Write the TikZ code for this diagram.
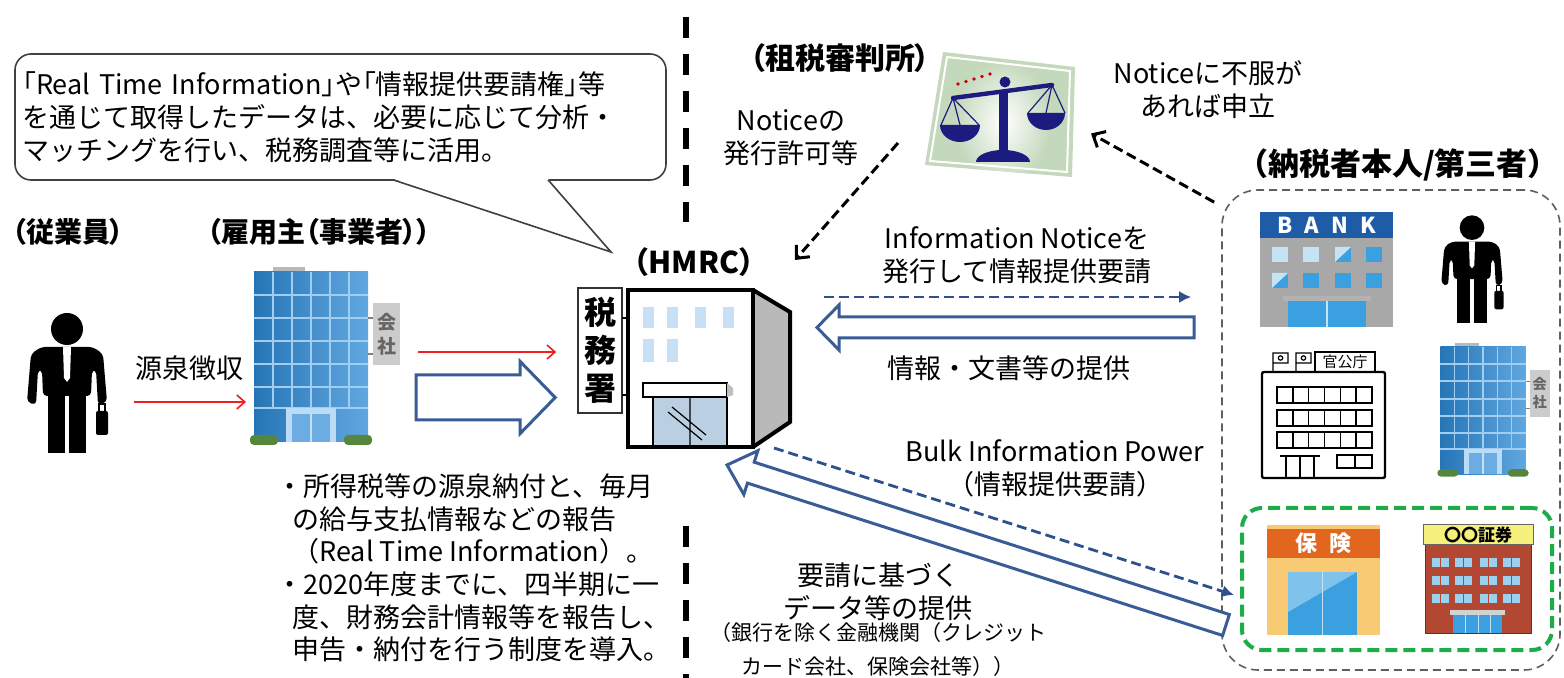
\documentclass[tikz,border=0pt]{standalone}
\usepackage{fontspec}
\setmainfont{Noto Sans CJK JP}
\newfontfamily\pfont{Noto Sans CJK JP}[RawFeature=+palt]
\usetikzlibrary{arrows.meta, positioning, calc}

\definecolor{navyblue}{RGB}{46, 80, 140}
\definecolor{hollowblue}{RGB}{58, 92, 150}
\definecolor{alarmred}{RGB}{240, 30, 30}
\definecolor{groupgreen}{RGB}{28, 172, 72}
\definecolor{groupgray}{RGB}{95, 95, 95}
\definecolor{glassblue}{RGB}{44, 138, 214}
\definecolor{glasslight}{RGB}{160, 205, 240}
\definecolor{signgray}{RGB}{204, 204, 204}
\definecolor{bushgreen}{RGB}{86, 134, 62}
\definecolor{windowblue}{RGB}{200, 224, 246}
\definecolor{doorglass}{RGB}{186, 208, 226}
\definecolor{courtgreen}{RGB}{196, 216, 188}
\definecolor{scalenavy}{RGB}{28, 28, 128}
\definecolor{bankblue}{RGB}{30, 92, 168}
\definecolor{bankgray}{RGB}{168, 168, 168}
\definecolor{skyblue}{RGB}{58, 160, 224}
\definecolor{palesky}{RGB}{196, 228, 246}
\definecolor{insorange}{RGB}{226, 102, 30}
\definecolor{inscream}{RGB}{248, 202, 116}
\definecolor{signyellow}{RGB}{246, 240, 124}
\definecolor{brickred}{RGB}{178, 72, 50}

% narrow brackets
\newcommand{\jlq}{{\pfont 「}}
\newcommand{\jrq}{{\pfont 」}}

% outlined block arrow between two named points: tail, tip, shaft half width, head half width, head length (pt)
\newcommand{\hollowarrow}[5]{%
  \pgfmathanglebetweenpoints{\pgfpointanchor{#1}{center}}{\pgfpointanchor{#2}{center}}%
  \let\harrowang\pgfmathresult
  \pgfpointdiff{\pgfpointanchor{#1}{center}}{\pgfpointanchor{#2}{center}}%
  \pgfgetlastxy{\harrowdx}{\harrowdy}%
  \pgfmathsetmacro{\harrowlen}{veclen(\harrowdx,\harrowdy)}%
  \begin{scope}[shift={(#1)}, rotate=\harrowang, x=1pt, y=1pt]
    \draw[fatarrow] (0,-#3) -- ({\harrowlen-#5},-#3) -- ({\harrowlen-#5},-#4) -- (\harrowlen,0)
      -- ({\harrowlen-#5},#4) -- ({\harrowlen-#5},#3) -- (0,#3) -- cycle;
  \end{scope}}

\tikzset{
	lbl/.style={align=center, inner sep=0pt, font=\fontsize{13.5}{16.5}\selectfont},
	smalllbl/.style={align=center, inner sep=0pt, font=\fontsize{10.5}{17}\selectfont},
	head/.style={inner sep=0pt, font=\pfont\bfseries\fontsize{14}{17}\selectfont},
	spot/.style={inner sep=0pt, outer sep=0pt},
	signtext/.style={inner sep=0pt, align=center, text=black!60, font=\bfseries\fontsize{9.5}{12}\selectfont},
	bubble/.style={rectangle, rounded corners=8pt, draw=black!75, line width=0.8pt, fill=white, align=left, text width=318pt, minimum width=325.5pt, minimum height=63pt, inner xsep=3.75pt, font=\fontsize{13.5}{16.5}\selectfont},
	groupbox/.style={rectangle, rounded corners=18pt, draw=groupgray, line width=0.8pt, dash pattern=on 4pt off 2.5pt},
	nonbankbox/.style={rectangle, rounded corners=10pt, draw=groupgreen, line width=2pt, dash pattern=on 6pt off 3pt},
	divider/.style={line width=3pt, dash pattern=on 10.5pt off 8pt},
	wagearrow/.style={-{Straight Barb[length=4pt, width=7pt]}, draw=alarmred, line width=0.8pt},
	fatarrow/.style={draw=hollowblue, line width=1.5pt, fill=white, line join=miter},
	noticearrow/.style={-{Latex[length=6pt, width=6pt]}, draw=navyblue, line width=1.4pt, dash pattern=on 5pt off 2.5pt},
	appealarrow/.style={-{Straight Barb[length=5pt, width=9pt]}, line width=1.5pt, dash pattern=on 5pt off 2.5pt},
	worker/.pic={
		\fill[rounded corners=2pt] (-26,-37) -- (26,-37) -- (36,-30) -- (40,18) -- (31,21) -- (29,-14)
			-- (25,-14) -- (24,12) -- (-24,12) -- (-25,-14) -- (-29,-14) -- (-31,21) -- (-40,18) -- (-36,-30) -- cycle;
		\fill (-19,8) rectangle (-2,69);
		\fill (2,8) rectangle (19,69);
		\fill (0,-55) circle (16);
		\fill[white] (-4,-37) -- (4,-37) -- (3,-6) -- (0,-2) -- (-3,-6) -- cycle;
		\fill[rounded corners=1pt] (29,27) rectangle (41,51);
		\draw[line width=0.8pt] (32,27) -- (32,20) -- (38,20) -- (38,27);
	},
	office/.pic={
		\fill[gray!55] (-38,-89) rectangle (-6,-84);
		\shade[left color=glassblue!85!black, right color=glassblue!75!white] (-57,-84) rectangle (57,86);
		\foreach \gx in {-38,-19,0,19,38}
			\draw[glasslight, line width=0.7pt] (\gx,-84) -- (\gx,52);
		\foreach \gy in {-61,-38,-15,8,31,52}
			\draw[glasslight, line width=1pt] (-57,\gy) -- (57,\gy);
		\fill[glasslight!70!white] (-25,52) rectangle (25,86);
		\fill[glassblue!70!white] (-19,58) rectangle (19,86);
		\draw[glasslight!60!white, line width=0.6pt] (0,58) -- (0,86);
		\fill[bushgreen, rounded corners=2pt] (-61,79) rectangle (-33,89);
		\fill[bushgreen, rounded corners=2pt] (33,79) rectangle (61,89);
		\draw[gray, line width=0.6pt] (57,-38) -- (62,-38) (57,-2) -- (62,-2);
		\fill[signgray] (62,-53) rectangle (89,9);
		\node[signtext] (-sign) at (75.5,-22) {会\\社};
	},
}

\begin{document}
\begin{tikzpicture}[x=0.5pt, y=-0.5pt]
	\fill[white] (0,0) rectangle (1564,678);
	\useasboundingbox (0,0) rectangle (1564,678);

	% split lines
	\draw[divider] (686,17) -- (686,222);
	\draw[divider] (686,526) -- (686,678);

	% employee and employer
	\node[head] (emplabel) at (68,232) {（従業員）};
	\node[head] (bosslabel) at (319,232) {（雇用主（事業者））};
	\node[spot, minimum width=40pt, minimum height=69.5pt] (employee) at (67,384) {};
	\pic at (67,384) {worker};
	\node[spot, minimum width=57pt, minimum height=89pt] (employer) at (311,356) {};
	\pic (bossbldg) at (311,356) {office};
	\node[lbl] (withhold) at (189,368) {源泉徴収};

	% tax office
	\node[spot, minimum width=81pt, minimum height=78.5pt] (hmrc) at (709,368.5) {};
	\node[draw=black!80, line width=0.8pt, fill=white, minimum width=22pt, minimum height=62.5pt, inner sep=0pt, align=center, font=\bfseries\fontsize{16}{19}\selectfont] (taxsign) at (600,350.5) {税\\務\\署};
	\draw[line width=0.6pt] (622,318) -- (628,318) (622,395) -- (628,395);
	\fill[gray!55] (753,290) -- (790,312) -- (790,422) -- (753,447) -- cycle;
	\draw[line width=2pt] (753,290) -- (790,312) -- (790,422) -- (753,447);
	\draw[line width=2pt, fill=white] (628,290) rectangle (753,447);
	\foreach \wx in {643,667,695,723}
		\fill[windowblue] (\wx,307) rectangle ++(11,21);
	\foreach \wx in {643,667}
		\fill[windowblue] (\wx,339) rectangle ++(11,23);
	\draw[line width=0.6pt, fill=doorglass] (653,397) rectangle (727,446);
	\draw[line width=0.6pt, fill=white] (643,383) rectangle (727,397);
	\fill[gray!50] (727,383) -- (733,388) -- (733,395) -- (727,397) -- cycle;
	\draw[line width=0.6pt] (690,397) -- (690,446) (668,412) -- (702,440) (672,407) -- (706,435);
	\node[head, font=\pfont\bfseries\fontsize{15}{17}\selectfont] (hmrclabel) at (694,262) {（HMRC）};

	% call-out over the tax office
	\node[bubble] (callout) at (340.5,117) {\jlq Real Time Information\jrq や\jlq 情報提供要請権\jrq 等\\を通じて取得したデータは、必要に応じて分析・\\マッチングを行い、税務調査等に活用。};
	\coordinate (calltip) at ($(hmrc.north west)+(-17,-38)$);
	\fill[white] ($(callout.south)+(52.5,-2)$) -- (calltip) -- ($(callout.south)+(207.5,-2)$) -- cycle;
	\draw[black!75, line width=0.8pt] ($(callout.south)+(52.5,-1)$) -- (calltip) -- ($(callout.south)+(207.5,-1)$);

	% tax tribunal
	\node[head, font=\pfont\bfseries\fontsize{15}{17}\selectfont] (courtlabel) at (840,58) {（租税審判所）};
	\node[spot, minimum width=75pt, minimum height=62.5pt] (court) at (1000,115) {};
	\fill[courtgreen] (943,52) -- (1075,67) -- (1072,177) -- (925,165) -- cycle;
	\begin{scope}
		\clip (943,52) -- (1075,67) -- (1072,177) -- (925,165) -- cycle;
		\shade[inner color=white, outer color=courtgreen] (1003,122) ellipse [x radius=48, y radius=62];
	\end{scope}
	\draw[white, line width=1pt] (947,57) -- (1070,71) -- (1067,172) -- (930,161) -- cycle;
	\draw[scalenavy, line width=0.6pt] (953,98) -- (941,125) (953,98) -- (960,125) (953,98) -- (979,125);
	\draw[scalenavy, line width=0.6pt] (1052,85) -- (1028,113) (1052,85) -- (1046,113) (1052,85) -- (1065,113);
	\draw[scalenavy, line width=2.2pt, line cap=round] (953,98) -- (1052,85);
	\fill[scalenavy] (1005,82) circle (5.5);
	\fill[scalenavy] (999,90) rectangle (1008,156);
	\fill[scalenavy] (976,162) arc[start angle=180, end angle=360, x radius=27, y radius=12] -- cycle;
	\fill[scalenavy] (940,125) arc[start angle=180, end angle=0, x radius=20, y radius=17] -- cycle;
	\fill[scalenavy] (1027,113) arc[start angle=180, end angle=0, x radius=19, y radius=17] -- cycle;
	\foreach \i in {0,...,4}
		\fill[red!80!black] ({958+8*\i},{84-2.5*\i}) circle (1.8);
	\node[lbl] (permit) at (791,138) {Noticeの\\発行許可等};
	\node[lbl] (appeal) at (1208,90) {Noticeに不服が\\あれば申立};

	% taxpayers and third parties
	\node[lbl, font=\bfseries\fontsize{15.5}{18}\selectfont] (partylabel) at (1398,165) {（納税者本人/第三者）};
	\node[groupbox, minimum width=169pt, minimum height=240pt] (thirdparty) at (1391,430) {};
	\node[nonbankbox, minimum width=155pt, minimum height=71pt] (nonbank) at (1397,579) {};

	% bank
	\fill[bankblue] (1260,212) rectangle (1393,238);
	\node[inner sep=0pt, text=white, font=\bfseries\fontsize{11}{11}\selectfont] (banksign) at (1326.5,225) {B\hspace{6pt}A\hspace{6pt}N\hspace{6pt}K};
	\fill[bankgray] (1260,238) rectangle (1393,327);
	\foreach \wx in {1272,1303,1335,1366}
		\foreach \wy in {247,273}
			\fill[skyblue] (\wx,\wy) rectangle ++(16,15);
	\fill[palesky] (1272,247) rectangle ++(16,15);
	\fill[palesky] (1303,247) rectangle ++(16,15);
	\fill[palesky] (1272,273) -- ++(16,0) -- ++(-16,15) -- cycle;
	\fill[palesky] (1335,247) -- ++(16,0) -- ++(-16,15) -- cycle;
	\fill[gray!60] (1283,296) rectangle (1371,301);
	\fill[skyblue] (1288,301) rectangle (1366,327);
	\draw[palesky, line width=0.8pt] (1327,301) -- (1327,327);

	% taxpayer himself
	\pic[scale=0.77] at (1472,270) {worker};

	% public office
	\foreach \fx in {1273,1296}
		\draw[line width=0.6pt] (\fx,372) -- (\fx,353) rectangle ++(15,10) ++(-7.5,-5) circle (2.2);
	\node[draw, line width=0.6pt, fill=white, inner sep=0pt, minimum width=30pt, minimum height=10pt, font=\fontsize{7.5}{8}\selectfont] (govsign) at (1345,362) {官公庁};
	\draw[line width=1.2pt, fill=white, rounded corners=1pt] (1262,372) rectangle (1385,478);
	\foreach \wy in {387,410,432} {
		\draw[line width=1pt] (1277,\wy) rectangle (1372,\wy+16);
		\foreach \c in {1,...,5}
			\draw[line width=0.8pt] ({1277+\c*15.83},\wy) -- ++(0,16);
	}
	\draw[line width=1pt] (1280,456) -- (1320,456) (1286,456) -- (1286,478) (1300,456) -- (1300,478) (1314,456) -- (1314,478);
	\draw[line width=1pt] (1337,455) rectangle (1372,468) (1354.5,455) -- (1354.5,468);

	% company
	\pic[scale=0.75, transform shape] (firmbldg) at (1483,410) {office};

	% insurer
	\fill[inscream] (1267,525) rectangle (1380,635);
	\fill[insorange] (1267,529) rectangle (1380,558);
	\node[inner sep=0pt, text=white, font=\bfseries\fontsize{11}{11}\selectfont] (inssign) at (1323.5,543.5) {保\hspace{6pt}険};
	\fill[skyblue] (1288,572) rectangle (1357,635);
	\fill[palesky!50!skyblue] (1288,572) -- (1357,572) -- (1288,612) -- cycle;
	\draw[palesky, line width=0.6pt] (1322.5,572) -- (1322.5,635);

	% securities house
	\draw[fill=brickred, draw=brickred!60!black, line width=0.5pt] (1425,545) rectangle (1531,633);
	\draw[fill=signyellow, draw=black!60, line width=0.5pt] (1423,525) rectangle (1533,545);
	\node[inner sep=0pt, font=\bfseries\fontsize{8.5}{9}\selectfont] (secsign) at (1478,535) {〇〇証券};
	\foreach \wy in {558,576,594}
		\foreach \wx in {1432,1455,1480,1503} {
			\fill[palesky!70!skyblue] (\wx,\wy) rectangle ++(17,9);
			\draw[brickred, line width=0.5pt] (\wx+8.5,\wy) -- ++(0,9);
		}
	\fill[gray!35] (1450,610) rectangle (1505,615);
	\fill[skyblue] (1453,615) rectangle (1502,633);
	\draw[palesky, line width=0.5pt] (1465,615) -- (1465,633) (1478,615) -- (1478,633) (1490,615) -- (1490,633);

	% labels along the flows
	\node[lbl] (requestlabel) at (1017,255) {Information Noticeを\\発行して情報提供要請};
	\node[lbl] (supplylabel) at (1009,368) {情報・文書等の提供};
	\node[lbl] (bulklabel) at (1055,468) {Bulk Information Power\\（情報提供要請）};
	\node[lbl] (datalabel) at (878,592) {要請に基づく\\データ等の提供};
	\node[smalllbl] (nonbanklabel) at (878,650) {（銀行を除く金融機関（クレジット\\カード会社、保険会社等））};
	\node[lbl, align=left, anchor=west, font=\fontsize{13.5}{16.3}\selectfont] (rtilabel) at (276,568) {・所得税等の源泉納付と、毎月\\\hspace*{0.6em}の給与支払情報などの報告\\\hspace*{0.6em}（Real Time Information）。\\・2020年度までに、四半期に一\\\hspace*{0.6em}度、財務会計情報等を報告し、\\\hspace*{0.6em}申告・納付を行う制度を導入。};

	% flows
	\draw[wagearrow] ($(employee.east)+(27,18)$) -- ($(employer.west)+(-8,46)$);
	\draw[wagearrow] ($(employer.east)+(50,-4)$) -- ($(taxsign.west)+(-21,1.5)$);
	\coordinate (payfrom) at ($(employer.east)+(48,41.5)$);
	\coordinate (payto) at ($(taxsign.west)+(-22,47)$);
	\hollowarrow{payfrom}{payto}{11.25}{18}{17.5}
	\draw[appealarrow] ($(court.west)+(-27,28)$) -- ($(hmrc.north east)+(5,-30)$);
	\draw[appealarrow] ($(thirdparty.north west)+(-7,13)$) -- ($(court.east)+(16,18.5)$);
	\draw[noticearrow] ($(hmrc.east)+(34,-71.5)$) -- ($(thirdparty.west)+(-30,-133)$);
	\coordinate (docsfrom) at ($(thirdparty.west)+(-27,-102.5)$);
	\coordinate (docsto) at ($(hmrc.east)+(27,-41)$);
	\hollowarrow{docsfrom}{docsto}{5.25}{11.25}{11}
	\coordinate (datafrom) at ($(nonbank.west)+(-14,46)$);
	\coordinate (datato) at ($(hmrc.south)+(18,18)$);
	\hollowarrow{datafrom}{datato}{5.5}{11.5}{12.5}
	\draw[noticearrow] ($(hmrc.south east)+(-16,1)$) -- ($(nonbank.west)+(-6,16)$);
\end{tikzpicture}
\end{document}
